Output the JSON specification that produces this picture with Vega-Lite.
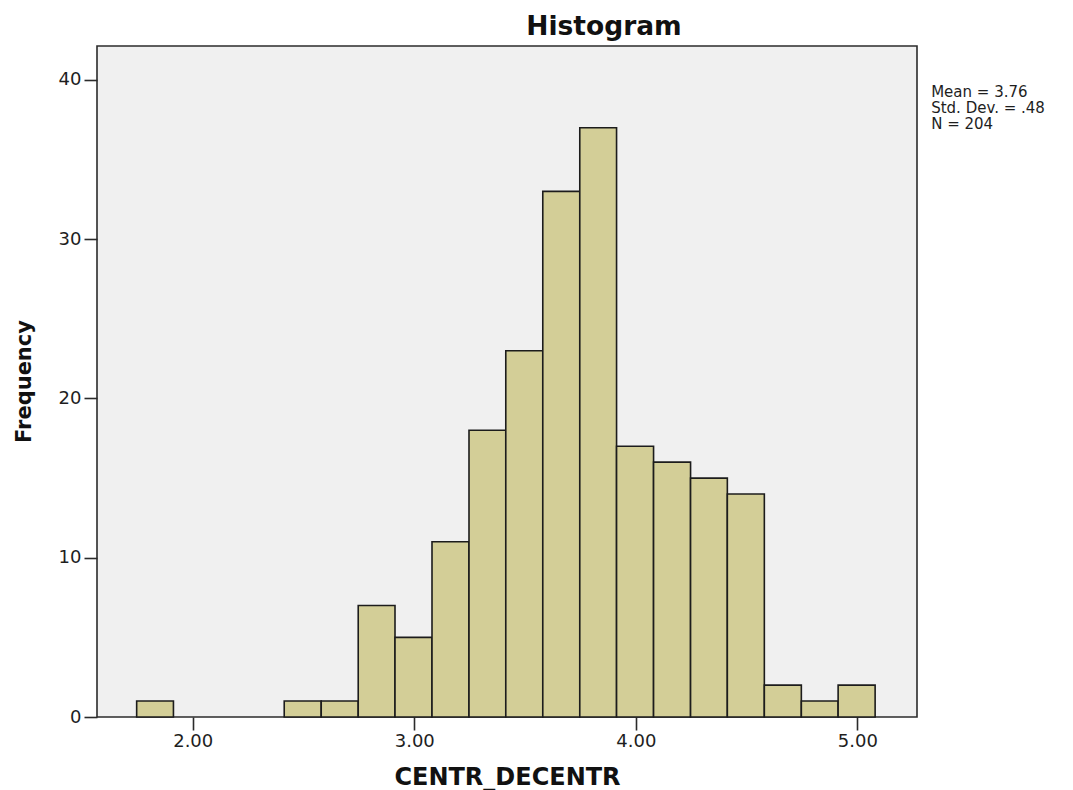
{
  "$schema": "https://vega.github.io/schema/vega-lite/v6.json",
  "width": 820,
  "height": 671,
  "autosize": {"type": "none"},
  "padding": {"left": 97, "top": 46, "right": 156, "bottom": 73},
  "background": "#ffffff",
  "config": {
    "view": {"stroke": "#2b2b2b", "strokeWidth": 1.6, "fill": "#F0F0F0"},
    "axis": {
      "grid": false,
      "domain": false,
      "labelFont": "DejaVu Sans",
      "labelFontSize": 18,
      "labelColor": "#1e1e1e",
      "tickColor": "#2b2b2b",
      "tickWidth": 1.6,
      "tickSize": 13,
      "titleFont": "DejaVu Sans",
      "titleFontWeight": "bold",
      "titleColor": "#111111"
    }
  },
  "title": {
    "text": "Histogram",
    "anchor": "middle",
    "frame": "group",
    "dx": 97,
    "dy": 28,
    "offset": 13,
    "baseline": "alphabetic",
    "font": "DejaVu Sans",
    "fontSize": 26.5,
    "fontWeight": "bold",
    "color": "#111111"
  },
  "data": {
    "values": [
      {"bin_start": 1.747, "bin_end": 1.913, "count": 1},
      {"bin_start": 2.413, "bin_end": 2.580, "count": 1},
      {"bin_start": 2.580, "bin_end": 2.747, "count": 1},
      {"bin_start": 2.747, "bin_end": 2.913, "count": 7},
      {"bin_start": 2.913, "bin_end": 3.080, "count": 5},
      {"bin_start": 3.080, "bin_end": 3.247, "count": 11},
      {"bin_start": 3.247, "bin_end": 3.413, "count": 18},
      {"bin_start": 3.413, "bin_end": 3.580, "count": 23},
      {"bin_start": 3.580, "bin_end": 3.747, "count": 33},
      {"bin_start": 3.747, "bin_end": 3.913, "count": 37},
      {"bin_start": 3.913, "bin_end": 4.080, "count": 17},
      {"bin_start": 4.080, "bin_end": 4.247, "count": 16},
      {"bin_start": 4.247, "bin_end": 4.413, "count": 15},
      {"bin_start": 4.413, "bin_end": 4.580, "count": 14},
      {"bin_start": 4.580, "bin_end": 4.747, "count": 2},
      {"bin_start": 4.747, "bin_end": 4.913, "count": 1},
      {"bin_start": 4.913, "bin_end": 5.080, "count": 2}
    ]
  },
  "layer": [
    {
      "mark": {"type": "bar", "fill": "#D3CE97", "stroke": "#1c1c1c", "strokeWidth": 1.6, "opacity": 1},
      "encoding": {
        "x": {
          "field": "bin_start",
          "type": "quantitative",
          "scale": {"domain": [1.568, 5.269], "nice": false, "zero": false},
          "axis": {
            "values": [2, 3, 4, 5],
            "format": ".2f",
            "labelPadding": 2,
            "title": "CENTR_DECENTR",
            "titleFontSize": 24,
            "titleBaseline": "alphabetic",
            "titleY": 67,
            "titleX": 410,
            "titleAlign": "center"
          }
        },
        "x2": {"field": "bin_end"},
        "y": {
          "field": "count",
          "type": "quantitative",
          "scale": {"domain": [0, 42.13], "nice": false},
          "axis": {
            "values": [0, 10, 20, 30, 40],
            "labelPadding": 3,
            "title": "Frequency",
            "titleFontSize": 21,
            "titleAngle": -90,
            "titleAlign": "center",
            "titleBaseline": "middle",
            "titleX": -73,
            "titleY": 335
          }
        },
        "y2": {"datum": 0}
      }
    },
    {
      "data": {"values": [{}]},
      "mark": {
        "type": "text",
        "text": ["Mean = 3.76", "Std. Dev. = .48", "N = 204"],
        "align": "left",
        "baseline": "alphabetic",
        "font": "DejaVu Sans",
        "fontSize": 15,
        "lineHeight": 16,
        "color": "#1e1e1e"
      },
      "encoding": {
        "x": {"datum": 5.333, "type": "quantitative"},
        "y": {"datum": 38.9, "type": "quantitative"}
      }
    }
  ]
}
